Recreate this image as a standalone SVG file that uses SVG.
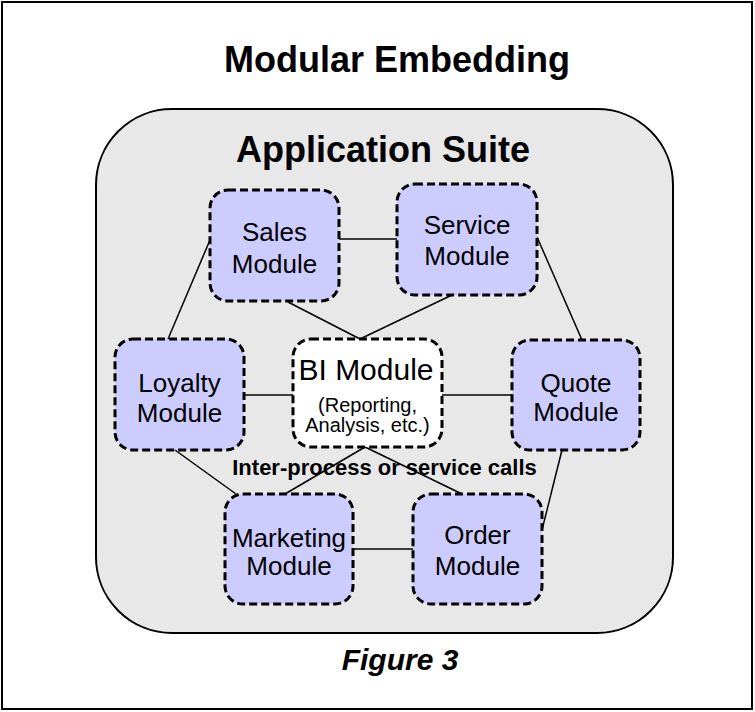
<svg xmlns="http://www.w3.org/2000/svg" width="755" height="712" viewBox="0 0 755 712">
<style>
.frame{fill:#fff;stroke:#000;stroke-width:2}
.suite{fill:#e8e8e8;stroke:#000;stroke-width:2}
.mod{fill:#ccccff;stroke:#000;stroke-width:3;stroke-dasharray:8 4}
.bi{fill:#fff;stroke:#000;stroke-width:3;stroke-dasharray:8 4}
.t{font-family:"Liberation Sans",Arial,sans-serif;fill:#000;text-anchor:middle}
.big{font-size:36px;font-weight:bold}
.lbl{font-size:26px}
.c{stroke:#000;stroke-width:1.5;fill:none}
</style>
<rect class="frame" x="2" y="2" width="750" height="707"/>
<text class="t big" x="397" y="72">Modular Embedding</text>
<g id="suite">
<rect class="suite" x="96" y="109" width="577" height="524" rx="76" ry="76"/>
<text class="t big" x="383" y="162">Application Suite</text>
</g>
<g id="connectors">
<line class="c" x1="339" y1="239" x2="397" y2="239"/>
<line class="c" x1="210" y1="240" x2="168" y2="339"/>
<line class="c" x1="288" y1="302" x2="360" y2="339"/>
<line class="c" x1="452" y1="295" x2="360" y2="339"/>
<line class="c" x1="537" y1="237" x2="582" y2="340"/>
<line class="c" x1="244" y1="395" x2="293" y2="395"/>
<line class="c" x1="442" y1="395" x2="512" y2="395"/>
<line class="c" x1="175" y1="450" x2="236" y2="494"/>
<line class="c" x1="365" y1="447" x2="285" y2="494"/>
<line class="c" x1="365" y1="447" x2="462" y2="494"/>
<line class="c" x1="353" y1="549" x2="413" y2="549"/>
<line class="c" x1="562" y1="450" x2="542" y2="530"/>
</g>
<g id="sales">
<rect class="mod" x="210" y="190" width="129" height="111" rx="18"/>
<text class="t lbl" x="274.5" y="241">Sales</text>
<text class="t lbl" x="274.5" y="273">Module</text>
</g>
<g id="service">
<rect class="mod" x="397" y="184" width="140" height="111" rx="18"/>
<text class="t lbl" x="467" y="234">Service</text>
<text class="t lbl" x="467" y="265">Module</text>
</g>
<g id="loyalty">
<rect class="mod" x="115" y="339" width="129" height="111" rx="18"/>
<text class="t lbl" x="179.5" y="392">Loyalty</text>
<text class="t lbl" x="179.5" y="422">Module</text>
</g>
<g id="bi">
<rect class="bi" x="293" y="339" width="149" height="108" rx="18"/>
<text class="t" x="366" y="380" font-size="30">BI Module</text>
<text class="t" x="367.5" y="412" font-size="20">(Reporting,</text>
<text class="t" x="367.5" y="432" font-size="20">Analysis, etc.)</text>
</g>
<g id="quote">
<rect class="mod" x="512" y="340" width="128" height="110" rx="18"/>
<text class="t lbl" x="576" y="392">Quote</text>
<text class="t lbl" x="576" y="421">Module</text>
</g>
<g id="marketing">
<rect class="mod" x="225" y="494" width="128" height="110" rx="18"/>
<text class="t lbl" x="289" y="547">Marketing</text>
<text class="t lbl" x="289" y="575">Module</text>
</g>
<g id="order">
<rect class="mod" x="413" y="494" width="129" height="110" rx="18"/>
<text class="t lbl" x="477.5" y="544">Order</text>
<text class="t lbl" x="477.5" y="575">Module</text>
</g>
<text class="t" x="384.5" y="475" font-size="22" font-weight="bold">Inter-process or service calls</text>
<text class="t" x="400" y="670" font-size="30" font-weight="bold" font-style="italic">Figure 3</text>
</svg>
